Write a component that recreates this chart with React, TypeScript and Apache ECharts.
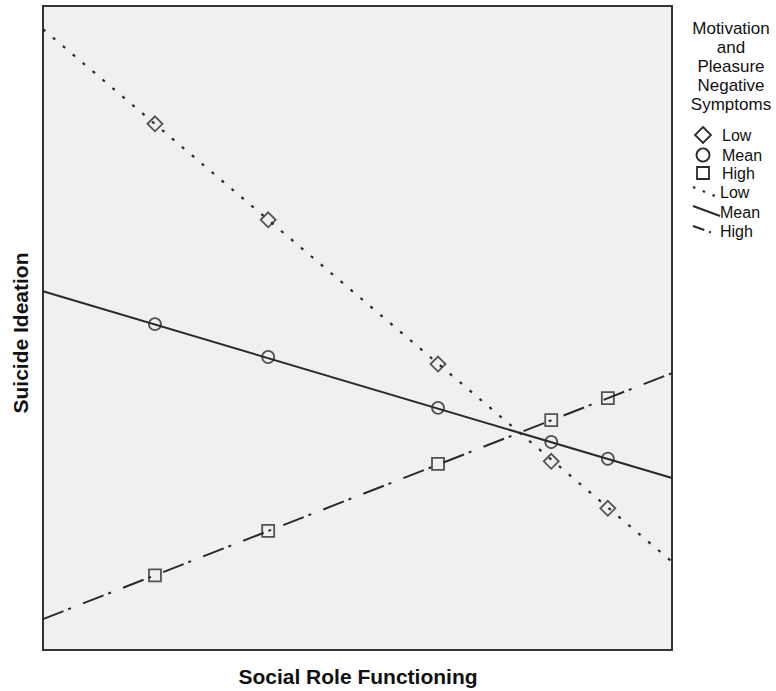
import React, { useEffect, useRef } from "react";
import * as echarts from "echarts";

// x positions of the observed points (Social Role Functioning, axis 0..100, unlabeled)
const socialRole = [17.8, 35.8, 62.8, 80.8, 89.8];
// predicted Suicide Ideation (axis 0..100, unlabeled)
const lowValues = [81.7, 66.8, 44.4, 29.3, 22.0];
const meanValues = [50.6, 45.5, 37.6, 32.3, 29.7];
const highValues = [11.6, 18.5, 28.9, 35.7, 39.1];
// fitted line values at the left (x=0) and right (x=100) edges
const lowLine = [96.4, 13.7];
const meanLine = [55.7, 26.7];
const highLine = [4.8, 43.0];
const legendTitle = ["Motivation", "and", "Pleasure", "Negative", "Symptoms"];
const levelNames = ["Low", "Mean", "High"];

const INK = "#2a2a2a";
const FONT = "'Liberation Sans', Arial, sans-serif";

export default function App() {
  const ref = useRef<HTMLDivElement>(null);
  useEffect(() => {
    const chart = echarts.init(ref.current!, null, { renderer: "svg" });
    const pts = (vals: number[]) => socialRole.map((x, i) => [x, vals[i]]);
    const edge = (v: number[]) => [[0, v[0]], [100, v[1]]];
    const markerStyle = { color: "transparent", borderColor: INK, borderWidth: 1.8 };

    const legendGraphics: any[] = [];
    legendTitle.forEach((t, i) => {
      legendGraphics.push({
        type: "text",
        x: 731,
        y: 28 + i * 19,
        style: { text: t, font: `17px ${FONT}`, fill: "#111", align: "center", verticalAlign: "middle" },
      });
    });
    const itemY = [135, 155, 173, 192, 212, 231];
    itemY.forEach((y, i) => {
      legendGraphics.push({
        type: "text",
        x: i >= 3 ? 720 : 722,
        y,
        style: { text: levelNames[i % 3], font: `16px ${FONT}`, fill: "#111", verticalAlign: "middle" },
      });
    });
    legendGraphics.push(
      { type: "polygon", shape: { points: [[703, 127], [711, 135], [703, 143], [695, 135]] }, style: { fill: "none", stroke: INK, lineWidth: 1.8 } },
      { type: "circle", shape: { cx: 703, cy: 155, r: 6.5 }, style: { fill: "none", stroke: INK, lineWidth: 1.8 } },
      { type: "rect", shape: { x: 697, y: 167, width: 12, height: 12 }, style: { fill: "none", stroke: INK, lineWidth: 1.8 } },
      { type: "line", shape: { x1: 693, y1: 187, x2: 720, y2: 198 }, style: { stroke: INK, lineWidth: 2.2, lineDash: [2.5, 8] } },
      { type: "line", shape: { x1: 693, y1: 206, x2: 720, y2: 216 }, style: { stroke: INK, lineWidth: 2 } },
      { type: "line", shape: { x1: 693, y1: 226, x2: 718, y2: 235 }, style: { stroke: INK, lineWidth: 2, lineDash: [12, 5, 2, 8] } }
    );

    chart.setOption({
      animation: false,
      grid: {
        left: 43,
        top: 6,
        right: 104,
        bottom: 41,
        containLabel: false,
        outerBoundsMode: "none",
        show: true,
        backgroundColor: "#f0f0f0",
        borderColor: "#333",
        borderWidth: 2,
      },
      xAxis: {
        type: "value",
        min: 0,
        max: 100,
        axisLine: { show: false },
        axisTick: { show: false },
        axisLabel: { show: false },
        splitLine: { show: false },
      },
      yAxis: {
        type: "value",
        min: 0,
        max: 100,
        axisLine: { show: false },
        axisTick: { show: false },
        axisLabel: { show: false },
        splitLine: { show: false },
      },
      title: [
        {
          text: "Social Role Functioning",
          left: 358,
          top: 666,
          textAlign: "center",
          textStyle: { fontFamily: FONT, fontWeight: "bold", fontSize: 21, color: "#111" },
          padding: 0,
        },
      ],
      graphic: [
        {
          type: "text",
          x: 20,
          y: 333,
          rotation: Math.PI / 2,
          style: { text: "Suicide Ideation", font: `bold 21px ${FONT}`, fill: "#111", align: "center", verticalAlign: "middle" },
        },
        ...legendGraphics,
      ],
      series: [
        { type: "line", data: edge(lowLine), symbol: "none", lineStyle: { color: INK, width: 2.2, type: [3, 10] }, z: 2 },
        { type: "line", data: edge(meanLine), symbol: "none", lineStyle: { color: INK, width: 2 }, z: 2 },
        { type: "line", data: edge(highLine), symbol: "none", lineStyle: { color: INK, width: 2, type: [22, 5, 3, 13] }, z: 2 },
        { type: "scatter", data: pts(lowValues), symbol: "diamond", symbolSize: 15, itemStyle: markerStyle, z: 3 },
        { type: "scatter", data: pts(meanValues), symbol: "circle", symbolSize: 12, itemStyle: markerStyle, z: 3 },
        { type: "scatter", data: pts(highValues), symbol: "rect", symbolSize: 12, itemStyle: markerStyle, z: 3 },
      ],
    });
    return () => chart.dispose();
  }, []);
  return <div ref={ref} style={{ width: 776, height: 691, position: "absolute", left: 0, top: 0 }} />;
}
